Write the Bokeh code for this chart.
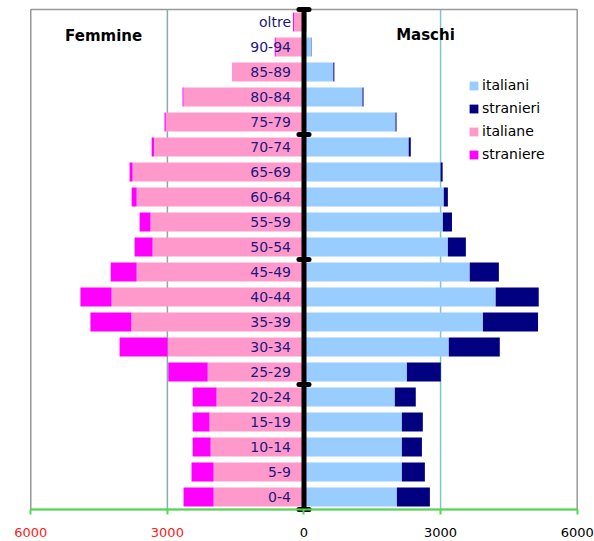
from bokeh.plotting import figure
from bokeh.models import (Range1d, FixedTicker, Label, Legend, LegendItem,
                          ColumnDataSource, LinearAxis)
from bokeh.core.properties import value
from bokeh.embed import file_html
from bokeh.resources import INLINE

# ---------------- data ----------------
age_groups = ["0-4", "5-9", "10-14", "15-19", "20-24", "25-29", "30-34", "35-39",
              "40-44", "45-49", "50-54", "55-59", "60-64", "65-69", "70-74",
              "75-79", "80-84", "85-89", "90-94", "oltre"]
# males
italiani = [2040, 2150, 2150, 2150, 1995, 2260, 3180, 3930, 4210, 3640,
            3160, 3050, 3070, 3000, 2300, 2010, 1285, 645, 170, 55]
stranieri = [725, 505, 440, 460, 460, 745, 1120, 1210, 945, 640,
             395, 200, 90, 45, 45, 22, 22, 22, 5, 3]
# females
italiane = [1985, 1985, 2050, 2075, 1920, 2115, 2995, 3790, 4225, 3675,
            3325, 3370, 3675, 3765, 3295, 3035, 2645, 1565, 620, 220]
straniere = [660, 485, 395, 370, 525, 865, 1055, 900, 685, 570,
             395, 240, 110, 65, 50, 28, 22, 8, 22, 22]

tick_values = [-6000, -3000, 0, 3000, 6000]
tick_labels = ["6000", "3000", "0", "3000", "6000"]
series_names = ["italiani", "stranieri", "italiane", "straniere"]
series_colors = ["#99ccff", "#000080", "#ff99cc", "#ff00ff"]

n = len(age_groups)
ypos = [i + 0.5 for i in range(n)]
male_total = [a + b for a, b in zip(italiani, stranieri)]
fem_it_neg = [-a for a in italiane]
fem_total_neg = [-(a + b) for a, b in zip(italiane, straniere)]

src = ColumnDataSource(dict(
    y=ypos, age=age_groups, zero=[0] * n,
    italiani=italiani, male_total=male_total,
    fem_it=fem_it_neg, fem_total=fem_total_neg,
))

xmin, xmax = min(tick_values), max(tick_values)

# full-canvas frame; ranges chosen so the plot box sits where the original one does
p = figure(width=594, height=541, output_backend="svg", toolbar_location=None,
           x_range=Range1d(-6665, 6380), y_range=Range1d(-1.28, n + 0.36),
           x_axis_location=None, y_axis_location=None,
           min_border_left=0, min_border_right=0, min_border_top=0,
           min_border_bottom=0)
p.background_fill_color = "white"
p.border_fill_color = "white"
p.outline_line_color = None
p.xgrid.visible = False
p.ygrid.visible = False

# vertical gridlines (behind bars)
p.segment(x0=[-3000], x1=[-3000], y0=[0], y1=[n], line_color="#8aabab", line_width=1.5)
p.segment(x0=[3000], x1=[3000], y0=[0], y1=[n], line_color="#7fc6c6", line_width=1.5)
# plot box
p.quad(left=[xmin], right=[xmax], bottom=[0], top=[n], fill_color=None,
       line_color="#999999", line_width=1.5)

bh = 0.76
r_itm = p.hbar(y="y", left="zero", right="italiani", height=bh, source=src,
               fill_color=series_colors[0], line_color=None)
r_stm = p.hbar(y="y", left="italiani", right="male_total", height=bh, source=src,
               fill_color=series_colors[1], line_color=None)
r_itf = p.hbar(y="y", left="fem_it", right="zero", height=bh, source=src,
               fill_color=series_colors[2], line_color=None)
r_stf = p.hbar(y="y", left="fem_total", right="fem_it", height=bh, source=src,
               fill_color=series_colors[3], line_color=None)

# age labels
p.text(x="zero", y="y", text="age", source=src, x_offset=-13,
       text_align="right", text_baseline="middle",
       text_font=value("DejaVu Sans"), text_font_size="14px",
       text_color="#1a1a7a")

# central axis line with caps
p.segment(x0=[0], x1=[0], y0=[0], y1=[n], line_color="black", line_width=5)
cap_y = list(range(0, n + 1, 5))
p.segment(x0=[-110] * len(cap_y), x1=[110] * len(cap_y), y0=cap_y, y1=cap_y,
          line_color="black", line_width=5, line_cap="round")

# x axes at y = 0: one with the green line and red labels (left side),
# one with black labels (right side)
def make_axis(show_neg, color):
    ax = LinearAxis(fixed_location=0, bounds=(xmin, xmax))
    ax.ticker = FixedTicker(ticks=tick_values)
    ax.major_label_overrides = {
        v: (l if ((v < 0) == show_neg) else "") for v, l in zip(tick_values, tick_labels)}
    ax.major_tick_out = 5
    ax.major_tick_in = 0
    ax.minor_tick_line_color = None
    ax.major_label_standoff = 13
    ax.major_label_text_font = "DejaVu Sans"
    ax.major_label_text_font_size = "13px"
    ax.major_label_text_color = color
    return ax

ax1 = make_axis(True, "#ff2020")
ax1.axis_line_color = "#4cdc4c"
ax1.axis_line_width = 2
ax1.major_tick_line_color = "#4cdc4c"
ax1.major_tick_line_width = 2
ax2 = make_axis(False, "black")
ax2.axis_line_color = None
ax2.major_tick_line_color = None
p.add_layout(ax1, "below")
p.add_layout(ax2, "below")

# titles
p.add_layout(Label(x=-4400, y=18.96, text="Femmine", text_align="center",
                   text_baseline="middle", text_font="DejaVu Sans",
                   text_font_style="bold", text_font_size="15px", text_color="black"))
p.add_layout(Label(x=2668, y=19.0, text="Maschi", text_align="center",
                   text_baseline="middle", text_font="DejaVu Sans",
                   text_font_style="bold", text_font_size="15px", text_color="black"))

legend = Legend(items=[LegendItem(label=series_names[0], renderers=[r_itm]),
                       LegendItem(label=series_names[1], renderers=[r_stm]),
                       LegendItem(label=series_names[2], renderers=[r_itf]),
                       LegendItem(label=series_names[3], renderers=[r_stf])],
                location=(468, 378), padding=0, margin=0, spacing=5,
                glyph_width=11, glyph_height=11, label_height=18,
                label_standoff=3, label_text_font="DejaVu Sans",
                label_text_font_size="14px", label_text_color="black",
                border_line_color=None, background_fill_alpha=0)
p.add_layout(legend)

open("out.html", "w").write(file_html(p, INLINE))
